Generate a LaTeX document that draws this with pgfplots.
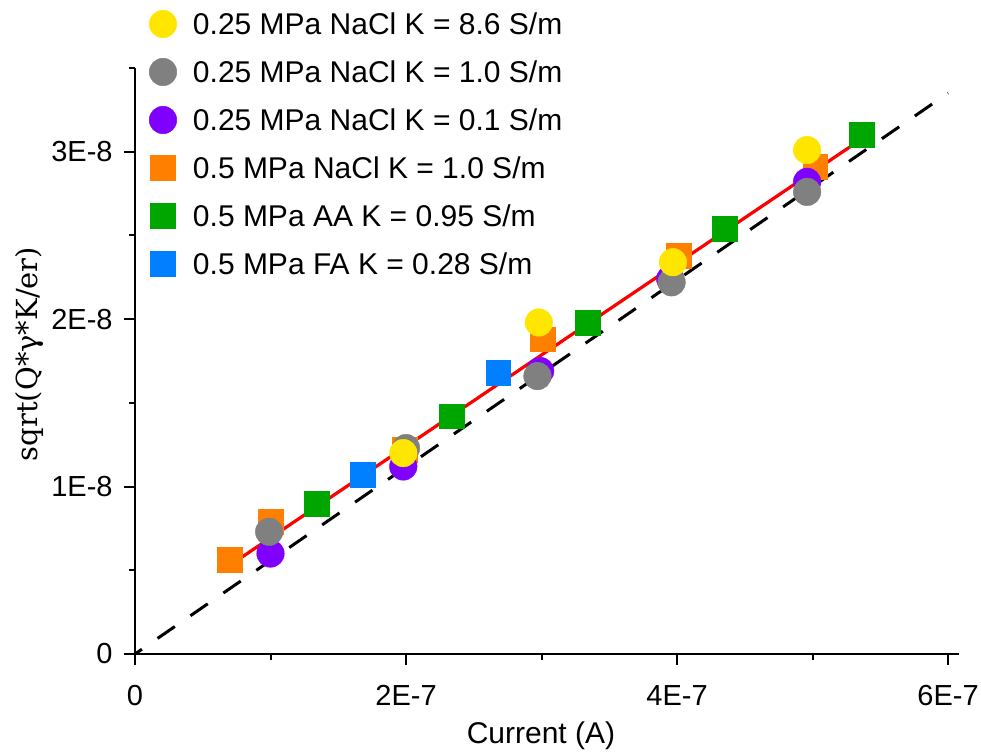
\documentclass[border=0pt]{standalone}
\usepackage{fontspec}
\setmainfont{Liberation Sans}
\newfontfamily\labelserif{DejaVu Serif}
\usepackage{pgfplots}
\pgfplotsset{compat=1.18}
\definecolor{cyel}{RGB}{255,230,0}
\definecolor{cgray}{RGB}{128,128,128}
\definecolor{cpur}{RGB}{127,0,255}
\definecolor{cora}{RGB}{255,127,0}
\definecolor{cgre}{RGB}{0,166,0}
\definecolor{cblu}{RGB}{0,128,255}
\pgfplotsset{
  myleg/.style={legend image code/.code={\draw[##1] plot coordinates {(0pt,0pt)}; \path[draw=none,fill=none] (-7.5pt,-12pt) rectangle (7.5pt,12pt);}},
  circ/.style={only marks, mark=*, mark size=6.9pt, mark options={draw=#1, fill=#1, line width=0.2pt}, myleg},
  sq/.style={only marks, mark=square*, mark size=6.2pt, mark options={draw=#1, fill=#1, line width=0.2pt}, myleg},
}
\begin{document}
\begin{tikzpicture}
\useasboundingbox (-67.5pt,-50pt) rectangle (423pt,327pt);
\begin{axis}[
  scale only axis, width=412pt, height=293pt,
  xmin=0, xmax=6.081e-7, ymin=0, ymax=3.5e-8,
  axis x line=bottom, axis y line=left,
  axis line style={-, line width=1pt, black},
  xtick={0,2e-7,4e-7,6e-7}, xticklabels={0,2E-7,4E-7,6E-7},
  minor xtick={1e-7,3e-7,5e-7},
  ytick={0,1e-8,2e-8,3e-8}, yticklabels={0,1E-8,2E-8,3E-8},
  minor ytick={0.5e-8,1.5e-8,2.5e-8,3.5e-8},
  scaled ticks=false,
  tick align=outside, major tick length=5.5pt, minor tick length=3pt,
  every tick/.style={black, line width=1pt},
  tick label style={font=\fontsize{14.5}{17}\selectfont},
  xticklabel style={anchor=north, inner sep=0pt, yshift=-10pt},
  yticklabel style={anchor=east, inner sep=0pt, xshift=-5.5pt},
  clip=false,
  xlabel={Current (A)},
  xlabel style={at={(axis description cs:0.4927,-0.1519)}, anchor=base, font=\fontsize{15}{18}\selectfont},
  ylabel={\labelserif sqrt(Q*γ*K/er)},
  ylabel style={at={(axis description cs:-0.128,0.512)}, anchor=center, font=\fontsize{14.5}{17}\selectfont},
  legend style={at={(axis description cs:0,1)}, anchor=north west, xshift=6.5pt, yshift=34pt,
    draw=none, fill=none, inner sep=0pt, outer sep=0pt, row sep=0pt, column sep=7.5pt,
    font=\fontsize{15}{18}\selectfont,
    nodes={inner sep=0pt, text height=11pt, text depth=0pt, anchor=west}},
  legend cell align=left,
]
\addlegendimage{circ=cyel}\addlegendentry{0.25 MPa NaCl K = 8.6 S/m}
\addlegendimage{circ=cgray}\addlegendentry{0.25 MPa NaCl K = 1.0 S/m}
\addlegendimage{circ=cpur}\addlegendentry{0.25 MPa NaCl K = 0.1 S/m}
\addlegendimage{sq=cora}\addlegendentry{0.5 MPa NaCl K = 1.0 S/m}
\addlegendimage{sq=cgre}\addlegendentry{0.5 MPa AA K = 0.95 S/m}
\addlegendimage{sq=cblu}\addlegendentry{0.5 MPa FA K = 0.28 S/m}
% dashed reference line
\addplot[black, line width=1.5pt, dash pattern=on 10.5pt off 9.5pt, dash phase=6.3pt, forget plot]
  coordinates {(0,0) (6.0e-7,3.35e-8)};
% squares
\addplot[sq=cora, forget plot] coordinates {
  (0.70e-7,0.563e-8) (1.00e-7,0.79e-8) (1.99e-7,1.22e-8) (3.01e-7,1.88e-8) (4.01e-7,2.38e-8) (5.02e-7,2.91e-8)};
\addplot[sq=cgre, forget plot] coordinates {
  (1.34e-7,0.90e-8) (2.34e-7,1.42e-8) (3.34e-7,1.98e-8) (4.35e-7,2.54e-8) (5.36e-7,3.10e-8)};
\addplot[sq=cblu, forget plot] coordinates {
  (1.68e-7,1.07e-8) (2.68e-7,1.68e-8)};
% circles
\addplot[circ=cpur, forget plot] coordinates {
  (1.00e-7,0.60e-8) (1.98e-7,1.12e-8) (2.99e-7,1.69e-8) (3.95e-7,2.24e-8) (4.96e-7,2.82e-8)};
\addplot[circ=cgray, forget plot] coordinates {
  (0.99e-7,0.73e-8) (2.00e-7,1.23e-8) (2.97e-7,1.66e-8) (3.96e-7,2.22e-8) (4.96e-7,2.76e-8)};
\addplot[circ=cyel, forget plot] coordinates {
  (1.98e-7,1.20e-8) (2.98e-7,1.98e-8) (3.97e-7,2.34e-8) (4.96e-7,3.01e-8)};
% fit line
\addplot[red, line width=1.6pt, forget plot] coordinates {(0.70e-7,0.53e-8) (5.37e-7,3.08e-8)};
\end{axis}
\end{tikzpicture}
\end{document}
